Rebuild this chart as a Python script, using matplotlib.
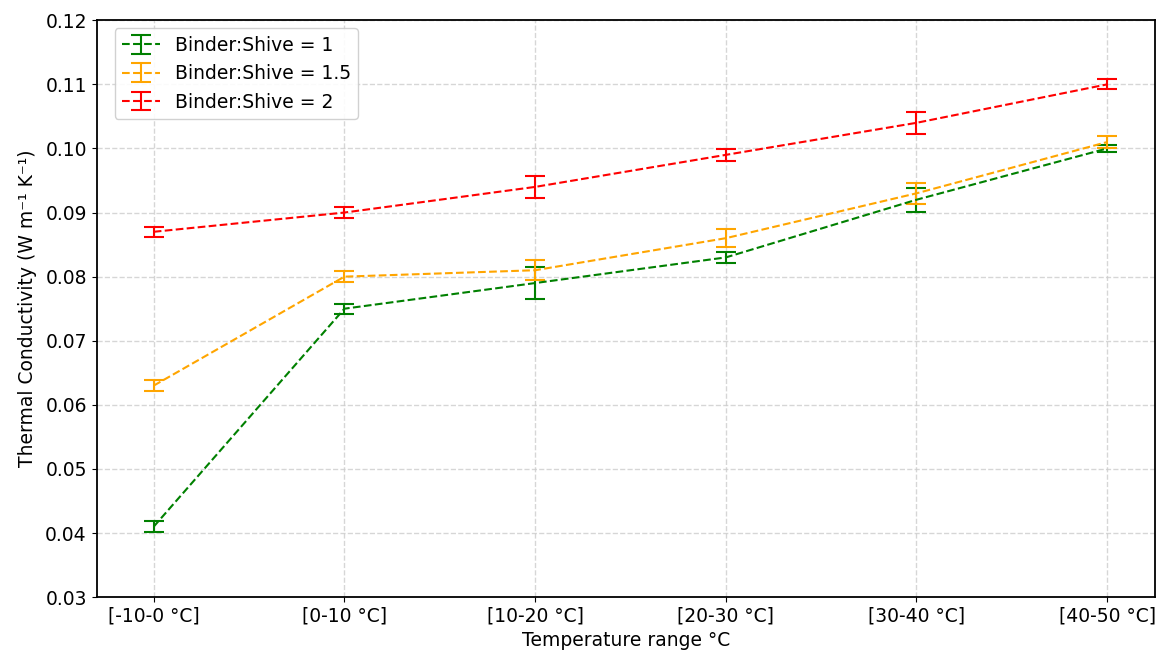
import numpy as np
import matplotlib.pyplot as plt

# Rangos de temperatura
rangos = ['[-10-0 °C]', '[0-10 °C]', '[10-20 °C]', '[20-30 °C]', '[30-40 °C]', '[40-50 °C]']

# Conductividad térmica media y desviación por relación ligante:cañamiza
k_1 = [0.041, 0.075, 0.079, 0.083, 0.092, 0.100]
err_1 = [0.0008, 0.0008, 0.0025, 0.0008, 0.0019, 0.0006]

k_15 = [0.063, 0.080, 0.081, 0.086, 0.093, 0.101]
err_15 = [0.0009, 0.0009, 0.0016, 0.0014, 0.0016, 0.0009]

k_2 = [0.087, 0.090, 0.094, 0.099, 0.104, 0.110]
err_2 = [0.0008, 0.0009, 0.0017, 0.0009, 0.0017, 0.0008]

series = [
    (k_1, err_1, 'green', 'Binder:Shive = 1'),
    (k_15, err_15, 'orange', 'Binder:Shive = 1.5'),
    (k_2, err_2, 'red', 'Binder:Shive = 2'),
]

fs = 13.5

fig = plt.figure(figsize=(11.63, 6.54), dpi=100)
ax = fig.add_axes([0.083, 0.087, 0.910, 0.882])

x = np.arange(len(rangos))
for vals, errs, color, label in series:
    ax.errorbar(x, vals, yerr=errs, fmt='--', color=color, capsize=7,
                linewidth=1.5, elinewidth=1.5, capthick=1.5, label=label)

ax.set_xticks(x)
ax.set_xticklabels(rangos, fontsize=fs)
ax.set_ylim(0.03, 0.12)
ax.set_yticks(np.arange(0.03, 0.1201, 0.01))
ax.set_yticklabels([f'{v:.2f}' for v in np.arange(0.03, 0.1201, 0.01)], fontsize=fs)
ax.set_xlim(-0.3, 5.25)

for s in ax.spines.values():
    s.set_linewidth(1.3)

ax.grid(True, linestyle='--', color='#cccccc', linewidth=1, alpha=0.8)
ax.set_axisbelow(True)

ax.set_xlabel('Temperature range °C', fontsize=fs)
ax.set_ylabel('Thermal Conductivity (W m⁻¹ K⁻¹)', fontsize=fs, labelpad=6)

ax.legend(loc='upper left', bbox_to_anchor=(0.017, 0.986), borderaxespad=0,
          fontsize=fs, framealpha=0.9)

fig.savefig('out.png', dpi=100)
